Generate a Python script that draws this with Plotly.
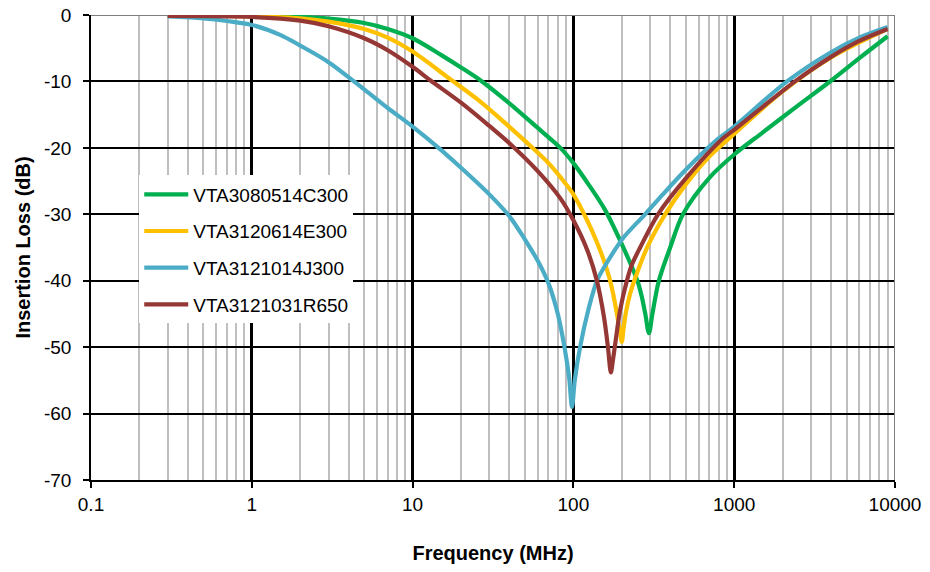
import plotly.graph_objects as go

# ---- data ----
names = ["VTA3080514C300", "VTA3120614E300", "VTA3121014J300", "VTA3121031R650"]
colors = ["#00B050", "#FFC000", "#4BACC6", "#953735"]

green_f = [0.3, 1, 2, 3, 5, 7, 10, 15, 20, 27, 40, 60, 83, 100, 125, 157, 200, 250, 265, 280, 295,
           310, 340, 400, 480, 707, 1000, 1500, 2500, 4000, 6000, 9000]
green_db = [-0.1, -0.15, -0.3, -0.55, -1.2, -2.1, -3.5, -6.0, -7.9, -10.0, -13.3, -17.0, -20.0, -22.3,
            -25.6, -29.3, -34.5, -40.0, -42.2, -45.0, -47.9, -45.0, -40.0, -35.0, -30.0, -24.4, -21.0,
            -17.7, -13.6, -9.9, -6.5, -3.2]

yellow_f = [0.3, 1, 2, 3, 5, 7, 10, 17, 25, 35, 54, 70, 83, 100, 120, 140, 160, 172, 185, 195, 200,
            205, 212, 225, 243, 290, 372, 500, 700, 1000, 2000, 4000, 9000]
yellow_db = [-0.1, -0.2, -0.5, -1.0, -2.1, -3.4, -5.5, -9.6, -12.6, -15.6, -19.7, -22.3, -24.4, -27.0,
             -30.6, -34.2, -38.0, -40.7, -44.5, -47.8, -49.2, -47.2, -44.8, -42.0, -39.5, -34.8, -30.0,
             -25.5, -21.3, -17.9, -11.5, -6.4, -2.1]

blue_f = [0.3, 0.5, 0.7, 1, 1.5, 2, 3, 5, 7, 10, 15, 20, 30, 40, 50, 60, 70, 80, 88, 94, 98, 102, 110,
          125, 140, 155, 170, 205, 279, 360, 500, 780, 1000, 2130, 4000, 6000, 9000]
blue_db = [-0.2, -0.5, -0.9, -1.5, -3.0, -4.6, -7.1, -11.2, -14.0, -16.8, -20.3, -23.0, -27.0, -30.3,
           -33.8, -37.0, -40.4, -45.0, -50.0, -54.5, -59.0, -55.0, -50.0, -44.0, -40.0, -38.0, -36.4,
           -33.5, -30.0, -27.0, -23.3, -18.8, -16.8, -10.0, -5.6, -3.4, -1.8]

red_f = [0.3, 1, 2, 3, 5, 7, 10, 13, 20, 30, 40, 60, 83, 100, 122, 140, 155, 164, 171, 176, 182, 195,
         215, 230, 260, 336, 500, 850, 1000, 2390, 4000, 6000, 9000]
red_db = [-0.15, -0.3, -0.85, -1.7, -3.5, -5.3, -7.8, -9.9, -13.2, -16.7, -19.3, -23.5, -27.6, -30.9,
          -35.4, -40.0, -45.5, -50.0, -53.8, -52.0, -49.5, -44.5, -40.0, -37.7, -35.0, -30.0, -24.6,
          -18.6, -17.3, -10.0, -6.3, -3.9, -2.1]

x_range = [0.1, 10000]
y_range = [-70, 0]
x_tickvals = [0.1, 1, 10, 100, 1000, 10000]
x_ticktext = ["0.1", "1", "10", "100", "1000", "10000"]
y_tickvals = [0, -10, -20, -30, -40, -50, -60, -70]
y_ticktext = ["0", "-10", "-20", "-30", "-40", "-50", "-60", "-70"]

series = [(green_f, green_db), (yellow_f, yellow_db), (blue_f, blue_db), (red_f, red_db)]

FONT = "Liberation Sans, Arial, sans-serif"

fig = go.Figure()
for (f, db), name, col in zip(series, names, colors):
    fig.add_trace(go.Scatter(
        x=f, y=db, name=name, mode="lines",
        line=dict(color=col, width=4.2, shape="spline", smoothing=0.9),
        legendgroup=name,
    ))

fig.update_layout(
    width=930, height=572,
    margin=dict(l=91, r=35, t=15, b=92, autoexpand=False),
    paper_bgcolor="white", plot_bgcolor="white",
    font=dict(family=FONT, size=19, color="black"),
    showlegend=True,
    legend=dict(
        x=0.06, y=0.655, xanchor="left", yanchor="top",
        bgcolor="white", borderwidth=0,
        traceorder="grouped", tracegroupgap=9, itemwidth=44,
        font=dict(family=FONT, size=19, color="black"),
    ),
    xaxis=dict(
        type="log", range=[-1, 4], automargin=False,
        tickvals=x_tickvals, ticktext=x_ticktext,
        showgrid=True, gridcolor="black", gridwidth=2.5,
        showline=True, linecolor="black", linewidth=1.5,
        ticks="outside", ticklen=6, tickwidth=1.5, tickcolor="black",
        minor=dict(dtick="D1", showgrid=True, gridcolor="#BFBFBF", gridwidth=1.5, ticks=""),
        zeroline=False,
        tickfont=dict(family=FONT, size=19),
        title=dict(text="<b>Frequency (MHz)</b>", font=dict(family=FONT, size=20), standoff=32),
    ),
    yaxis=dict(
        range=[-70, 0], automargin=False,
        tickvals=y_tickvals, ticktext=y_ticktext,
        showgrid=True, gridcolor="black", gridwidth=1.5,
        showline=True, linecolor="black", linewidth=1.5,
        ticks="outside", ticklen=6, tickwidth=1.5, tickcolor="black",
        ticklabelstandoff=8,
        zeroline=False,
        tickfont=dict(family=FONT, size=19),
        title=dict(text="<b>Insertion Loss (dB)</b>", font=dict(family=FONT, size=20), standoff=8),
    ),
    shapes=[
        dict(type="line", xref="x", yref="y", x0=x_range[0], x1=x_range[1], y0=y_range[1], y1=y_range[1],
             line=dict(color="#7F7F7F", width=2), layer="between"),
        dict(type="line", xref="x", yref="y", x0=x_range[1], x1=x_range[1], y0=y_range[0], y1=y_range[1],
             line=dict(color="#7F7F7F", width=2), layer="between"),
    ],
)

fig.write_html("out.html")
